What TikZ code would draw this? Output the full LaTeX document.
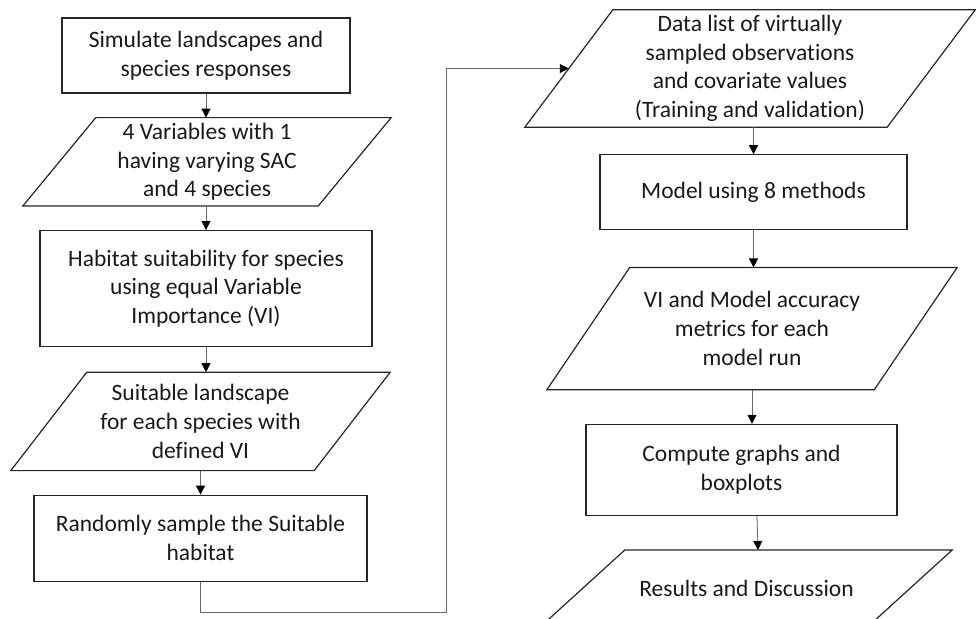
\documentclass[tikz,border=0pt]{standalone}
\usepackage{fontspec}
\setmainfont{Carlito}[Ligatures=NoCommon]
\usetikzlibrary{positioning, arrows.meta}

\begin{document}
\begin{tikzpicture}[
    x=1pt, y=-1pt,
    every node/.style={align=center, inner sep=0pt, text=black!90, font=\fontsize{23.5}{28.7}\selectfont},
    process/.style={draw=black!85, line width=1.2pt},
    data/.style={},
    outline/.style={draw=black!85, line width=1.2pt, line join=miter},
    arrow/.style={-{Triangle[length=9pt, width=9pt, black]}, draw=black!60, line width=0.8pt}
]
\useasboundingbox (0,0) rectangle (976,618);

% Simulation chain (left column)
\node[process, minimum width=288pt, minimum height=75pt] (B1) at (206,55.5) {Simulate landscapes and\\species responses};
\node[data, minimum width=368pt, minimum height=88pt, below=24pt of B1, xshift=1pt] (P1) {4 Variables with 1\\having varying SAC\\and 4 species};
\node[process, minimum width=332pt, minimum height=116pt, below=24pt of P1, xshift=-1pt] (B2) {Habitat suitability for species\\using equal Variable\\Importance (VI)};
\node[data, minimum width=379pt, minimum height=98pt, below=25pt of B2, xshift=-5.5pt] (P2) {Suitable landscape\\for each species with\\defined VI};
\node[process, minimum width=333pt, minimum height=86pt, below=24pt of P2] (B3) {Randomly sample the Suitable\\habitat};

% Modelling chain (right column)
\node[data, minimum width=450pt, minimum height=117pt] (P3) at (750,68.5) {Data list of virtually\\sampled observations\\and covariate values\\(Training and validation)};
\node[process, minimum width=307pt, minimum height=75pt, below=27pt of P3, xshift=3.5pt] (B4) {Model using 8 methods};
\node[data, minimum width=410pt, minimum height=122pt, below=37pt of B4, xshift=-1.5pt] (P4) {VI and Model accuracy\\metrics for each\\model run};
\node[process, minimum width=311pt, minimum height=91pt, below=34pt of P4, xshift=-10.5pt] (B5) {Compute graphs and\\boxplots};
\node[data, minimum width=411pt, minimum height=76pt, below=34pt of B5, xshift=5pt] (P5) {Results and Discussion};

% Slanted data shapes
\foreach \n/\s in {P1/73, P2/76, P3/88, P4/83, P5/84}
    \draw[outline] ([xshift=\s pt]\n.north west) -- (\n.north east) -- ([xshift=-\s pt]\n.south east) -- (\n.south west) -- cycle;

\coordinate (P3in) at ([xshift=44pt]P3.west);

% Flow arrows
\draw[arrow] (B1.south) -- (B1.south |- P1.north);
\draw[arrow] (B1.south |- P1.south) -- (B1.south |- B2.north);
\draw[arrow] (B2.south) -- (B2.south |- P2.north);
\draw[arrow] (P2.south) -- (P2.south |- B3.north);
\draw[arrow] (B3.south) -- ++(0,31) -- ++(246,0) |- (P3in);
\draw[arrow] (B4.north |- P3.south) -- (B4.north);
\draw[arrow] (B4.south) -- (B4.south |- P4.north);
\draw[arrow] (P4.south) -- (P4.south |- B5.north);
\draw[arrow] ([xshift=15.5pt]B5.south) -- ([xshift=16.5pt]B5.south |- P5.north);

\end{tikzpicture}
\end{document}
